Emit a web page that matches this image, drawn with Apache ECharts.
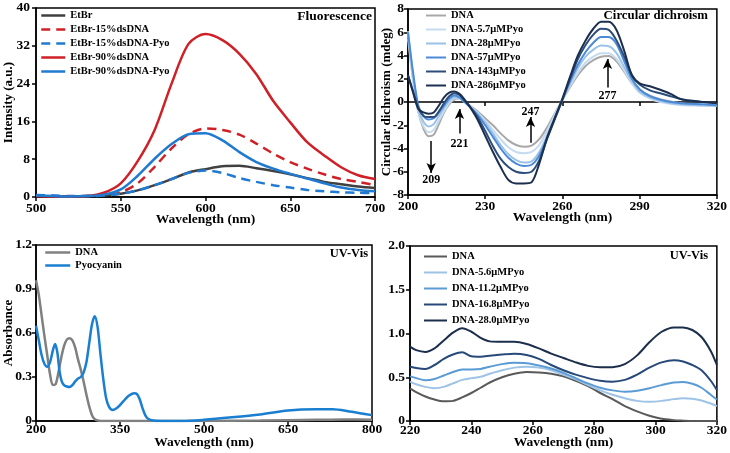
<!DOCTYPE html>
<html><head><meta charset="utf-8">
<script src="https://cdn.jsdelivr.net/npm/echarts@6/dist/echarts.min.js"></script>
<style>html,body{margin:0;padding:0;background:#fff}#c{width:730px;height:453px}</style>
</head><body><div id="c"></div>
<script>
// ---------- Fluorescence ----------
const fluoWavelength = [500,510,520,530,540,550,560,570,580,590,600,610,620,630,640,650,660,670,680,690,700];
const fluoEtBr        = [0.2,0.15,0.1,0.15,0.3,0.7,1.4,2.5,3.8,5.2,5.9,6.5,6.6,6.1,5.5,4.8,4.0,3.2,2.7,2.2,1.9];
const fluoEtBr15      = [0.3,0.2,0.1,0.2,0.4,1.0,2.9,6.4,10.3,13.3,14.5,14.2,13.2,11.3,9.2,7.4,6.0,4.8,3.8,3.2,2.5];
const fluoEtBr15Pyo   = [0.4,0.3,0.2,0.2,0.3,0.7,1.4,2.5,3.8,5.1,5.6,5.1,4.0,3.2,2.5,2.0,1.5,1.2,1.0,0.9,0.8];
const fluoEtBr90      = [0.2,0.1,0.1,0.2,0.9,2.9,7.6,14.2,24.0,32.4,34.5,33.2,30.3,26.0,20.3,15.8,11.6,8.8,6.3,4.6,3.8];
const fluoEtBr90Pyo   = [0.3,0.2,0.1,0.2,0.5,1.6,4.5,8.1,11.2,13.3,13.5,12.0,9.5,7.4,6.0,4.9,3.9,2.9,2.0,1.5,1.2];
const fluoNames = ['EtBr','EtBr-15%dsDNA','EtBr-15%dsDNA-Pyo','EtBr-90%dsDNA','EtBr-90%dsDNA-Pyo'];

// ---------- Circular dichroism ----------
const cdWavelength = [200,202,204,206,208,210,212,214,216,218,220,222,224,227,230,233,236,239,242,245,248,251,254,257,260,263,266,269,272,275,278,281,284,287,290,294,298,302,306,310,315,320];
const cdDNA    = [5.4,1.9,-0.8,-2.3,-2.95,-2.8,-1.9,-0.9,-0.2,0.2,0.3,0.05,-0.3,-0.8,-1.4,-2.0,-2.7,-3.3,-3.7,-3.85,-3.75,-3.2,-2.2,-1.0,0.2,1.3,2.3,3.1,3.6,3.9,3.95,3.5,2.6,1.6,1.0,0.55,0.25,0.05,-0.1,-0.2,-0.25,-0.3];
const cdPyo5_7 = [5.9,1.8,-0.9,-2.1,-2.6,-2.4,-1.6,-0.8,-0.1,0.3,0.3,0.0,-0.35,-0.9,-1.6,-2.4,-3.2,-3.9,-4.3,-4.4,-4.3,-3.7,-2.5,-1.1,0.2,1.4,2.5,3.4,3.9,4.2,4.2,3.7,2.7,1.6,0.8,0.3,0.0,-0.15,-0.25,-0.3,-0.3,-0.35];
const cdPyo28  = [6.1,2.2,-0.6,-1.7,-2.1,-1.9,-1.2,-0.5,0.1,0.4,0.35,0.0,-0.4,-1.0,-1.8,-2.7,-3.7,-4.5,-5.0,-5.2,-5.1,-4.3,-2.9,-1.3,0.2,1.6,2.9,3.9,4.5,4.85,4.8,4.2,3.0,1.8,0.9,0.4,0.1,-0.1,-0.2,-0.25,-0.3,-0.3];
const cdPyo57  = [6.0,2.5,-0.3,-1.2,-1.5,-1.4,-0.9,-0.3,0.3,0.55,0.4,0.0,-0.4,-1.1,-2.0,-3.0,-4.0,-4.8,-5.3,-5.5,-5.4,-4.6,-3.1,-1.4,0.2,1.8,3.2,4.3,5.1,5.6,5.6,5.0,3.5,2.0,1.1,0.5,0.2,0.0,-0.1,-0.15,-0.2,-0.3];
const cdPyo143 = [2.3,0.9,-0.5,-1.2,-1.3,-1.3,-0.8,-0.1,0.5,0.75,0.6,0.1,-0.4,-1.3,-2.5,-3.8,-4.9,-5.6,-6.0,-6.1,-6.0,-5.0,-3.2,-1.5,0.2,2.0,3.7,4.9,5.8,6.3,6.2,5.3,3.9,2.3,1.5,1.0,0.75,0.5,0.25,0.1,0.0,-0.1];
const cdPyo286 = [2.3,0.8,-0.6,-0.9,-1.0,-0.9,-0.3,0.4,0.8,0.9,0.7,0.2,-0.4,-1.5,-2.9,-4.3,-5.6,-6.7,-7.0,-7.0,-6.9,-5.3,-3.1,-1.4,0.3,2.2,4.0,5.3,6.3,6.9,6.9,6.2,4.4,2.3,1.6,1.35,1.05,0.7,0.25,0.1,0.0,-0.1];
const cdNames = ['DNA','DNA-5.7μMPyo','DNA-28μMPyo','DNA-57μMPyo','DNA-143μMPyo','DNA-286μMPyo'];
const cdPeakLabels = ['209','221','247','277'];
const cdXTicks = [200,230,260,290,320];

// ---------- UV-Vis (DNA vs Pyocyanin) ----------
const uvDnaWavelength = [200,205,210,215,220,225,230,235,240,245,250,255,260,265,270,275,280,285,290,295,300,305,310,320,350,400,500,600,700,750,800];
const uvDna           = [0.96,0.86,0.72,0.58,0.45,0.32,0.245,0.25,0.33,0.43,0.51,0.555,0.565,0.55,0.50,0.42,0.35,0.27,0.18,0.10,0.04,0.012,0.004,0,0,0,0,0.003,0.008,0.01,0.008];
const uvPyoWavelength = [200,205,210,215,220,225,230,234,238,242,246,250,255,260,265,270,275,280,285,290,295,300,305,310,315,320,325,330,337,345,355,365,375,380,385,390,395,400,410,430,460,500,550,600,650,700,730,760,800];
const uvPyo           = [0.65,0.55,0.45,0.39,0.37,0.40,0.48,0.525,0.47,0.34,0.27,0.245,0.235,0.232,0.245,0.27,0.29,0.30,0.33,0.40,0.53,0.66,0.715,0.64,0.46,0.29,0.16,0.10,0.075,0.09,0.13,0.17,0.19,0.185,0.15,0.09,0.04,0.015,0.003,0,0,0.008,0.025,0.045,0.072,0.08,0.08,0.065,0.04];
const uvNames = ['DNA','Pyocyanin'];
const uvXTicks = [200,350,500,650,800];

// ---------- UV-Vis titration ----------
const titWavelength = [220,222,225,228,231,234,237,240,243,246,250,254,258,262,266,270,274,278,282,286,290,294,298,302,306,309,312,315,318,320];
const titDNA    = [0.373,0.33,0.28,0.245,0.225,0.23,0.27,0.32,0.38,0.44,0.50,0.54,0.56,0.555,0.54,0.51,0.46,0.40,0.32,0.25,0.17,0.11,0.06,0.025,0.01,0.004,0,0,0,0];
const titPyo5_6 = [0.45,0.42,0.39,0.375,0.39,0.43,0.47,0.49,0.505,0.54,0.58,0.61,0.62,0.61,0.58,0.53,0.475,0.41,0.35,0.30,0.26,0.23,0.22,0.23,0.25,0.26,0.255,0.235,0.2,0.17];
const titPyo11_2= [0.51,0.49,0.465,0.48,0.52,0.56,0.59,0.59,0.595,0.62,0.65,0.665,0.66,0.635,0.6,0.55,0.49,0.43,0.38,0.35,0.335,0.345,0.375,0.41,0.44,0.445,0.425,0.38,0.3,0.245];
const titPyo16_8= [0.62,0.605,0.595,0.64,0.71,0.76,0.785,0.74,0.735,0.745,0.76,0.77,0.755,0.71,0.64,0.58,0.53,0.49,0.46,0.45,0.47,0.53,0.61,0.67,0.695,0.68,0.64,0.58,0.46,0.354];
const titPyo28_0= [0.85,0.81,0.79,0.83,0.92,1.01,1.06,1.02,0.95,0.91,0.905,0.905,0.88,0.83,0.77,0.72,0.67,0.63,0.615,0.615,0.65,0.75,0.9,1.02,1.07,1.07,1.04,0.96,0.8,0.64];
const titNames = ['DNA','DNA-5.6μMPyo','DNA-11.2μMPyo','DNA-16.8μMPyo','DNA-28.0μMPyo'];

// ---------- build ----------
const F = 'Liberation Serif';
const pairs = (xs, ys) => xs.map((x, i) => [x, ys[i]]);

function xAxisCfg(o) {
  return {
    type: 'value', gridIndex: o.grid, min: o.min, max: o.max, interval: o.interval,
    position: o.position || 'bottom',
    name: o.name, nameLocation: 'middle', nameGap: o.nameGap, nameMoveOverlap: false,
    nameTextStyle: {color: '#000', fontFamily: F, fontWeight: 'bold', fontSize: 13.5},
    axisLine: {show: true, onZero: !!o.onZero, lineStyle: {color: '#000', width: 1.5}},
    axisTick: {show: true, length: 4, inside: !!o.tickInside, customValues: o.ticks, lineStyle: {color: '#000', width: 1.5}},
    axisLabel: {show: o.showLabel !== false, customValues: o.ticks, margin: o.margin, color: '#000', fontFamily: F, fontWeight: 'bold', fontSize: 13.5},
    splitLine: {show: false}
  };
}
function yAxisCfg(o) {
  return {
    type: 'value', gridIndex: o.grid, min: o.min, max: o.max, interval: o.interval,
    name: o.name, nameLocation: 'middle', nameGap: o.nameGap, nameRotate: 90, nameMoveOverlap: false,
    nameTextStyle: {color: '#000', fontFamily: F, fontWeight: 'bold', fontSize: o.nameSize || 13},
    axisLine: {show: true, onZero: false, lineStyle: {color: '#000', width: 1.5}},
    axisTick: {show: true, length: 4, lineStyle: {color: '#000', width: 1.5}},
    axisLabel: {margin: o.margin, color: '#000', fontFamily: F, fontWeight: 'bold', fontSize: 13.5, formatter: o.formatter},
    splitLine: {show: false}
  };
}
function line(name, xi, yi, data, color, width, type, extra) {
  return Object.assign({
    type: 'line', name, xAxisIndex: xi, yAxisIndex: yi, data,
    symbol: 'none', showSymbol: false, smooth: 0.3, clip: true,
    lineStyle: {color, width, type: type || 'solid'}, itemStyle: {color}
  }, extra || {});
}
function legendCfg(o) {
  return {
    show: true, orient: 'vertical', left: o.left, top: o.top, padding: 0, itemGap: o.gap,
    itemWidth: o.iw, itemHeight: 10, selectedMode: false,
    textStyle: {color: '#000', fontFamily: F, fontWeight: 'bold', fontSize: o.fs},
    data: o.names.map((n, i) => ({name: n,
      itemStyle: {color: 'rgba(0,0,0,0)', borderWidth: 0, opacity: 0},
      lineStyle: {color: o.colors[i], width: o.lw, type: (o.types && o.types[i]) || 'solid', opacity: 1}}))
  };
}
const gridBox = {show: true, borderColor: '#000', borderWidth: 1.5, backgroundColor: 'transparent'};

const fluoColors = ['#404040', '#cf2027', '#1f7ad0', '#cf2027', '#1f7ad0'];
const fluoTypes = ['solid', [9, 6], [9, 6], 'solid', 'solid'];
const fluoData = [fluoEtBr, fluoEtBr15, fluoEtBr15Pyo, fluoEtBr90, fluoEtBr90Pyo];
const cdColors = ['#a8a8a8', '#c6dbf0', '#9cc2e8', '#4a8ad8', '#2d4e7b', '#1c2f4f'];
const cdData = [cdDNA, cdPyo5_7, cdPyo28, cdPyo57, cdPyo143, cdPyo286];
const uvColors = ['#808080', '#1a7fd0'];
const titColors = ['#595959', '#9dc3e6', '#5b9bd5', '#27497a', '#1b2e4c'];
const titData = [titDNA, titPyo5_6, titPyo11_2, titPyo16_8, titPyo28_0];

const series = [];
fluoNames.forEach((n, i) => series.push(line(n, 0, 0, pairs(fluoWavelength, fluoData[i]), fluoColors[i], 2.5, fluoTypes[i])));
cdNames.forEach((n, i) => series.push(line(n, 1, 1, pairs(cdWavelength, cdData[i]), cdColors[i], 2, 'solid')));
series.push({
  type: 'line', name: '_cdmarks', xAxisIndex: 1, yAxisIndex: 1, data: [], symbol: 'none',
  markLine: {
    silent: true, symbol: ['none', 'arrow'], symbolSize: [7, 10], animation: false,
    lineStyle: {color: '#000', width: 1.5, type: 'solid'}, label: {show: false},
    data: [
      [{coord: [209, -3.35]}, {coord: [209, -6.1]}],
      [{coord: [220, -2.7]}, {coord: [220, -0.6]}],
      [{coord: [247.6, -3.5]}, {coord: [247.6, -1.3]}],
      [{coord: [277.5, 1.25]}, {coord: [277.5, 3.7]}]
    ]
  },
  markPoint: {
    silent: true, symbol: 'circle', symbolSize: 1, itemStyle: {color: 'rgba(0,0,0,0)'}, animation: false,
    label: {show: true, position: 'inside', formatter: '{b}', color: '#000', fontFamily: F, fontWeight: 'bold', fontSize: 12},
    data: [
      {name: cdPeakLabels[0], coord: [209, -6.7]},
      {name: cdPeakLabels[1], coord: [220, -3.6]},
      {name: cdPeakLabels[2], coord: [247.6, -0.86]},
      {name: cdPeakLabels[3], coord: [277.5, 0.55]}
    ]
  }
});
series.push(line(uvNames[0], 3, 2, pairs(uvDnaWavelength, uvDna), uvColors[0], 2.5));
series.push(line(uvNames[1], 3, 2, pairs(uvPyoWavelength, uvPyo), uvColors[1], 2.5));
titNames.forEach((n, i) => series.push(line(n, 4, 3, pairs(titWavelength, titData[i]), titColors[i], 2)));

const titleStyle = (s) => ({color: '#000', fontFamily: F, fontWeight: 'bold', fontSize: s});

const option = {
  animation: false,
  backgroundColor: '#fff',
  title: [
    {text: 'Fluorescence', right: 358, top: 10, padding: 0, textStyle: titleStyle(13.5)},
    {text: 'Circular dichroism', right: 22, top: 9, padding: 0, textStyle: titleStyle(12.8)},
    {text: 'UV-Vis', right: 362, top: 247, padding: 0, textStyle: titleStyle(12.5)},
    {text: 'UV-Vis', right: 22, top: 249, padding: 0, textStyle: titleStyle(12.5)}
  ],
  grid: [
    Object.assign({left: 36, top: 8, width: 339, height: 189}, gridBox),
    Object.assign({left: 408, top: 9, width: 309, height: 186}, gridBox),
    Object.assign({left: 36, top: 245, width: 336, height: 176}, gridBox),
    Object.assign({left: 410, top: 246, width: 307, height: 175}, gridBox)
  ],
  xAxis: [
    xAxisCfg({grid: 0, min: 500, max: 700, interval: 50, name: 'Wavelength (nm)', nameGap: 16, margin: 5}),
    xAxisCfg({grid: 1, min: 200, max: 320, ticks: cdXTicks, name: 'Wavelength (nm)', nameGap: 16, margin: 5}),
    xAxisCfg({grid: 1, min: 200, max: 320, ticks: cdXTicks.slice(1, 4), position: 'top', onZero: true, tickInside: true, showLabel: false}),
    xAxisCfg({grid: 2, min: 200, max: 800, ticks: uvXTicks, name: 'Wavelength (nm)', nameGap: 15, margin: 2}),
    xAxisCfg({grid: 3, min: 220, max: 320, interval: 20, name: 'Wavelength (nm)', nameGap: 15, margin: 3})
  ],
  yAxis: [
    yAxisCfg({grid: 0, min: 0, max: 40, interval: 8, name: 'Intensity (a.u.)', nameGap: 21, margin: 6, nameSize: 13}),
    yAxisCfg({grid: 1, min: -8, max: 8, interval: 2, name: 'Circular dichroism (mdeg)', nameGap: 15, margin: 4, nameSize: 13}),
    yAxisCfg({grid: 2, min: 0, max: 1.2, interval: 0.3, name: 'Absorbance', nameGap: 21, margin: 4, nameSize: 13}),
    yAxisCfg({grid: 3, min: 0, max: 2, interval: 0.5, margin: 5, formatter: (v) => v === 0 ? '0' : v.toFixed(1)})
  ],
  legend: [
    legendCfg({left: 40, top: 10, iw: 24, fs: 10.5, gap: 3, lw: 2.5, names: fluoNames, colors: fluoColors, types: fluoTypes}),
    legendCfg({left: 425, top: 10, iw: 20, fs: 10.5, gap: 3, lw: 2, names: cdNames, colors: cdColors}),
    legendCfg({left: 44, top: 247, iw: 25, fs: 10.5, gap: 2, lw: 2.5, names: uvNames, colors: uvColors}),
    legendCfg({left: 423, top: 251, iw: 23, fs: 10.5, gap: 5, lw: 2, names: titNames, colors: titColors})
  ],
  series
};
const chart = echarts.init(document.getElementById('c'), null, {renderer: 'canvas'});
chart.setOption(option);
</script></body></html>
